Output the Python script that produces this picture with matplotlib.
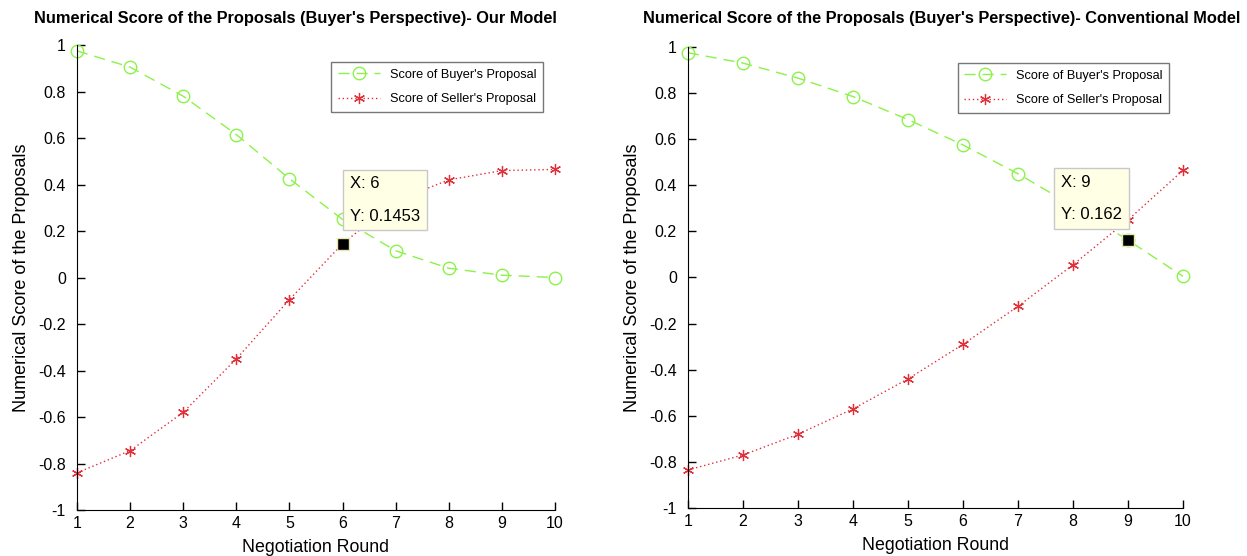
import numpy as np
import matplotlib.pyplot as plt

plt.rcParams['font.family'] = ['Liberation Sans', 'DejaVu Sans']

rounds = np.arange(1, 11)

# Our model
buyer_ours = [0.975, 0.905, 0.78, 0.615, 0.425, 0.25, 0.115, 0.04, 0.01, 0.0]
seller_ours = [-0.84, -0.745, -0.58, -0.35, -0.095, 0.1453, 0.33, 0.42, 0.46, 0.465]

# Conventional model
buyer_conv = [0.975, 0.93, 0.865, 0.785, 0.685, 0.575, 0.45, 0.31, 0.162, 0.005]
seller_conv = [-0.835, -0.77, -0.68, -0.57, -0.44, -0.29, -0.125, 0.055, 0.25, 0.465]

titles = ["Numerical Score of the Proposals (Buyer's Perspective)- Our Model",
          "Numerical Score of the Proposals (Buyer's Perspective)- Conventional Model"]
tips = [(6, 0.1453), (9, 0.162)]
tip_text = ["X: 6\n\nY: 0.1453", "X: 9\n\nY: 0.162"]
tip_pos = [(6.14, 0.435), (7.78, 0.445)]
leg_anchor = [(0.975, 0.963), (0.972, 0.965)]

green = '#8cf24a'
red = '#e0303a'

fig = plt.figure(figsize=(12.47, 5.56), dpi=100)
ax1 = fig.add_axes([0.0617, 0.0827, 0.3834, 0.8363])
ax2 = fig.add_axes([0.5517, 0.0863, 0.3970, 0.8292])

data = [(buyer_ours, seller_ours), (buyer_conv, seller_conv)]
title_x = [0.237, 0.755]

for i, ax in enumerate([ax1, ax2]):
    b, s = data[i]
    ax.plot(rounds, b, color=green, ls=(0, (8, 5)), lw=1, marker='o', ms=9,
            mfc='none', mec=green, mew=1, label="Score of Buyer's Proposal", clip_on=False)
    ax.plot(rounds, s, color=red, ls=(0, (1, 2)), lw=1, marker=(6, 2, 0), ms=8,
            mec=red, mew=0.9, label="Score of Seller's Proposal", clip_on=False)
    ax.set_xlim(1, 10)
    ax.set_ylim(-1, 1)
    ax.set_xticks(rounds)
    ax.set_yticks(np.arange(-1, 1.01, 0.2))
    ax.set_yticklabels(['-1', '-0.8', '-0.6', '-0.4', '-0.2', '0', '0.2', '0.4', '0.6', '0.8', '1'])
    ax.tick_params(direction='in', labelsize=11.5, length=6, width=1)
    ax.tick_params(axis='y', pad=8)
    ax.tick_params(axis='x', pad=4)
    ax.spines['top'].set_visible(False)
    ax.spines['right'].set_visible(False)
    ax.set_xlabel('Negotiation Round', fontsize=12.8, labelpad=6)
    ax.set_ylabel('Numerical Score of the Proposals', fontsize=13, labelpad=6)
    leg = ax.legend(loc='upper right', bbox_to_anchor=leg_anchor[i], borderaxespad=0,
                    fontsize=9.2, frameon=True, fancybox=False, edgecolor='#555555',
                    handlelength=3.3, handletextpad=0.8, borderpad=0.5, labelspacing=1.0)
    leg.get_frame().set_linewidth(1)
    # data tip
    tx, ty = tips[i]
    ax.plot([tx], [ty], marker='s', ms=9, color='black', mec='#e8e8b0', mew=1,
            zorder=5, clip_on=False)
    px, py = tip_pos[i]
    ax.text(px, py, tip_text[i], ha='left', va='top', fontsize=12, linespacing=1.1,
            zorder=6, bbox=dict(boxstyle='square,pad=0.4', fc='#ffffe6', ec='#c8c8c8', lw=1))
    fig.text(title_x[i], 0.967, titles[i], ha='center', va='center',
             fontsize=11.8, fontweight='bold')

fig.savefig('out.png', dpi=100)
